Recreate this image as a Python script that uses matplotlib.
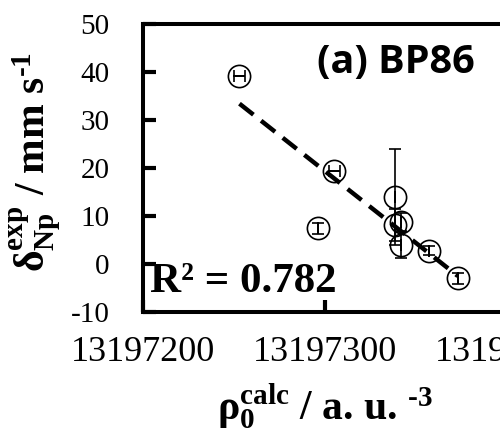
import numpy as np
import matplotlib
matplotlib.use("Agg")
import matplotlib.pyplot as plt
from matplotlib.ticker import FuncFormatter

# Calculated contact density (a.u.^-3) vs. experimental isomer shift (mm/s)
rho_calc = [13197253, 13197305, 13197296, 13197338.5, 13197338.5,
            13197342, 13197342, 13197357, 13197373]
delta_exp = [39.2, 19.4, 7.4, 14.0, 8.1, 8.8, 4.0, 2.8, -3.0]
rho_err = [3, 3, 0, 0, 0, 0, 0, 0, 0]
delta_err = [0, 0, 1.2, 10.0, 3.4, 1.9, 2.7, 1.0, 1.2]

x_ticks = [13197200, 13197300, 13197400]
y_ticks = [-10, 0, 10, 20, 30, 40, 50]
r2_text = "R² = 0.782"
panel_text = "(a) BP86"

plt.rcParams['font.family'] = 'Liberation Serif'
plt.rcParams['axes.unicode_minus'] = False
plt.rcParams['mathtext.fontset'] = 'custom'
plt.rcParams['mathtext.rm'] = 'Liberation Serif:bold'
plt.rcParams['mathtext.bf'] = 'Liberation Serif:bold'
plt.rcParams['mathtext.it'] = 'Liberation Serif:bold'

fig = plt.figure(figsize=(5, 4.32), dpi=100)
# axes run past the right edge of the figure
ax = fig.add_axes([0.286, 0.2778, 0.728, 0.6667])

ax.errorbar(rho_calc, delta_exp, xerr=rho_err, yerr=delta_err,
            fmt='o', ms=16, mfc='none', mec='black', mew=1.2,
            ecolor='black', elinewidth=1.2, capsize=4, capthick=1.2,
            zorder=3)

# linear trend line
x0 = 13197300
coef = np.polyfit(np.array(rho_calc) - x0, delta_exp, 1)
xs = np.array([min(rho_calc), max(rho_calc)])
ax.plot(xs, np.polyval(coef, xs - x0), color='black', lw=3.2,
        linestyle=(0, (4, 2.2)), zorder=2)

ax.set_xlim(13197200, 13197400)
ax.set_ylim(-10, 50)
ax.set_xticks(x_ticks)
ax.set_yticks(y_ticks)
ax.xaxis.set_major_formatter(FuncFormatter(lambda v, p: f"{v:.0f}"))
ax.yaxis.set_major_formatter(FuncFormatter(lambda v, p: f"{v:.0f}"))

ax.tick_params(direction='in', length=9, width=3)
ax.tick_params(axis='x', labelsize=26, pad=17)
ax.tick_params(axis='y', labelsize=21, pad=24)
for s in ax.spines.values():
    s.set_linewidth(2.9)

ax.set_xlabel(r'$\mathrm{ρ_0^{calc}}$ / a. u. $^{\text{-3}}$',
              fontsize=30, fontweight='bold', labelpad=9)
ax.set_ylabel(r'$\mathrm{δ_{Np}^{exp}}$ / mm s$^{\text{-1}}$',
              fontsize=30, fontweight='bold')
ax.yaxis.set_label_coords(-0.222, 0.52)

ax.text(0.019, 0.069, r2_text, transform=ax.transAxes, fontsize=31,
        fontweight='bold', va='baseline', ha='left', zorder=4)
ax.text(0.478, 0.83, panel_text, transform=ax.transAxes, fontsize=28.5,
        fontweight='bold', family='Open Sans', va='baseline', ha='left')

fig.savefig("out.png", dpi=100)
